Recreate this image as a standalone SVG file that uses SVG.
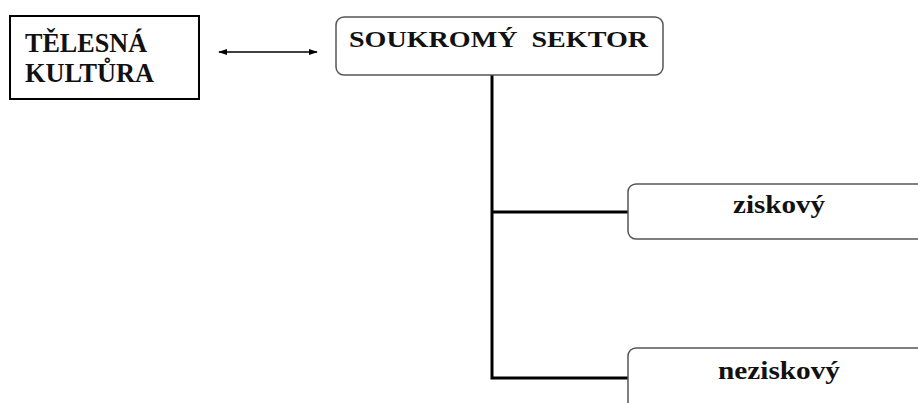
<svg xmlns="http://www.w3.org/2000/svg" width="918" height="403" viewBox="0 0 918 403">
<style>
.t{font-family:"Liberation Serif","Times New Roman",serif;font-weight:bold;fill:#111}
.rb{fill:#fff;stroke:#555;stroke-width:1.5}
.ln{stroke:#000;stroke-width:3;fill:none}
</style>
<defs>
<marker id="ah" viewBox="0 0 10 10" refX="9" refY="5" markerWidth="9" markerHeight="9" orient="auto-start-reverse" markerUnits="userSpaceOnUse">
<path d="M0,1.5 L10,5 L0,8.5 z" fill="#000"/>
</marker>
</defs>
<rect width="918" height="403" fill="#fff"/>
<g id="connectors">
<line x1="219" y1="52" x2="317" y2="52" stroke="#000" stroke-width="1.3" marker-start="url(#ah)" marker-end="url(#ah)"/>
<path class="ln" d="M492,75 V378 H628"/>
<line class="ln" x1="492" y1="212" x2="628" y2="212"/>
</g>
<g id="telesna-kultura">
<rect x="10" y="16" width="189" height="83" fill="#fff" stroke="#000" stroke-width="2"/>
<text class="t" x="25" y="52" font-size="28" textLength="122" lengthAdjust="spacingAndGlyphs">TĚLESNÁ</text>
<text class="t" x="25" y="82" font-size="28" textLength="129" lengthAdjust="spacingAndGlyphs">KULTŮRA</text>
</g>
<g id="soukromy-sektor">
<rect class="rb" x="336" y="17" width="327" height="58" rx="8"/>
<text class="t" x="349" y="47" font-size="23" textLength="299" lengthAdjust="spacingAndGlyphs" xml:space="preserve">SOUKROMÝ  SEKTOR</text>
</g>
<g id="ziskovy">
<rect class="rb" x="628" y="184" width="310" height="55" rx="8"/>
<text class="t" x="733" y="213" font-size="26" textLength="92" lengthAdjust="spacingAndGlyphs">ziskový</text>
</g>
<g id="neziskovy">
<rect class="rb" x="628" y="348" width="310" height="70" rx="8"/>
<text class="t" x="718" y="379" font-size="26" textLength="122" lengthAdjust="spacingAndGlyphs">neziskový</text>
</g>
</svg>
